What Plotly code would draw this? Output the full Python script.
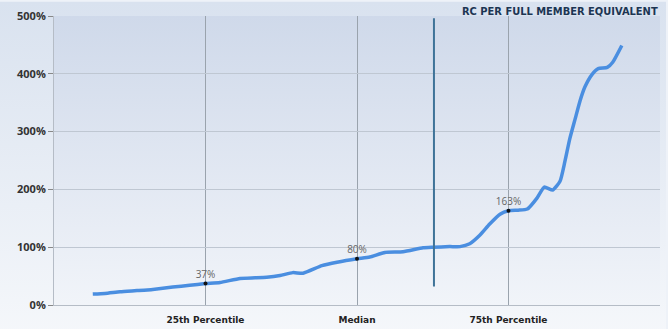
import base64
import plotly.graph_objects as go

# ---- data ----
percentile = [6.4, 8.4, 10.9, 13.7, 16.3, 19.6, 22.4, 25.0, 27.4, 30.7, 33.2, 35.1, 37.3, 39.4,
              41.1, 44.2, 46.7, 50.0, 52.1, 54.6, 57.6, 60.9, 62.5, 65.3, 67.0, 68.6, 70.3, 71.9,
              73.6, 75.0, 76.6, 78.1, 79.7, 80.9, 82.3, 83.5, 84.3, 85.1, 86.0, 86.8, 87.6,
              88.8, 89.8, 91.3, 92.2, 93.7]
ratio = [19, 20, 23, 25, 27, 31, 34, 37, 39, 46, 47, 48, 51, 56,
         55, 68, 74, 80, 83, 91, 92, 99, 100, 101, 101, 106, 121, 140,
         157, 163, 164, 166, 185, 204, 199, 214, 248, 287, 322, 353, 377,
         399, 409, 411, 420, 449]

marker_pct = [25, 50, 75]
marker_val = [37, 80, 163]
marker_text = ["37%", "80%", "163%"]

x_tickvals = [25, 50, 75]
x_ticktext = ["25th Percentile", "Median", "75th Percentile"]
y_tickvals = [0, 100, 200, 300, 400, 500]
y_ticktext = ["0%", "100%", "200%", "300%", "400%", "500%"]

ref_line_pct = 62.7
ref_line_span = [32, 496]

title_text = "RC PER FULL MEMBER EQUIVALENT"

# ---- gradient backgrounds ----
def grad_svg(top, bottom):
    svg = ('<svg xmlns="http://www.w3.org/2000/svg" width="100" height="100" preserveAspectRatio="none">'
           '<defs><linearGradient id="g" x1="0" y1="0" x2="0" y2="1">'
           f'<stop offset="0" stop-color="{top}"/><stop offset="1" stop-color="{bottom}"/>'
           '</linearGradient></defs><rect width="100" height="100" fill="url(#g)"/></svg>')
    return "data:image/svg+xml;base64," + base64.b64encode(svg.encode()).decode()

fig = go.Figure()

fig.add_trace(go.Scatter(
    x=percentile, y=ratio, mode="lines",
    line=dict(color="#4a8ee0", width=3.5, shape="spline", smoothing=0.5),
    hoverinfo="skip", showlegend=False))

fig.add_trace(go.Scatter(
    x=marker_pct, y=marker_val, mode="markers+text",
    marker=dict(color="#111111", size=4),
    text=marker_text, textposition="top center",
    textfont=dict(family="Open Sans, sans-serif", size=10, color="#666666"),
    hoverinfo="skip", showlegend=False))

fig.add_shape(type="line", xref="x", yref="y",
              x0=ref_line_pct, x1=ref_line_pct, y0=ref_line_span[0], y1=ref_line_span[1],
              line=dict(color="#3f7398", width=2))

fig.add_annotation(text=title_text, xref="paper", yref="paper", x=1.0, y=1.0,
                   xanchor="right", yanchor="top", yshift=13,
                   showarrow=False,
                   font=dict(family="DejaVu Sans Condensed, DejaVu Sans", size=11,
                             color="#1c3553", weight="bold"))

fig.update_layout(
    width=668, height=329,
    margin=dict(l=54, r=8, t=13, b=24),
    paper_bgcolor="#eef2f8",
    plot_bgcolor="rgba(0,0,0,0)",
    images=[
        dict(source=grad_svg("#d9e2ef", "#f6f8fb"), xref="paper", yref="paper",
             x=-0.09, y=1.05, sizex=1.1, sizey=1.2, xanchor="left", yanchor="top",
             sizing="stretch", layer="below"),
        dict(source=grad_svg("#cfd9ea", "#f1f4f9"), xref="x domain", yref="y domain",
             x=0, y=1, sizex=1, sizey=1, xanchor="left", yanchor="top",
             sizing="stretch", layer="below"),
    ],
    xaxis=dict(range=[0, 100], tickvals=x_tickvals, ticktext=x_ticktext,
               showgrid=True, gridcolor="#9aa3ad", gridwidth=1,
               showline=True, linecolor="#b5bcc6", linewidth=1,
               zeroline=False, ticks="", ticklabelstandoff=6, automargin=False,
               tickfont=dict(family="DejaVu Sans", size=9, color="#222222", weight="bold")),
    yaxis=dict(range=[0, 500], tickvals=y_tickvals, ticktext=y_ticktext,
               showgrid=True, gridcolor="#bfc7d2", gridwidth=1,
               showline=True, linecolor="#b5bcc6", linewidth=1,
               zeroline=False, ticks="outside", ticklen=5, tickcolor="#888888",
               tickfont=dict(family="Open Sans", size=11, color="#333333", weight="bold")),
)

fig.write_html("out.html")
